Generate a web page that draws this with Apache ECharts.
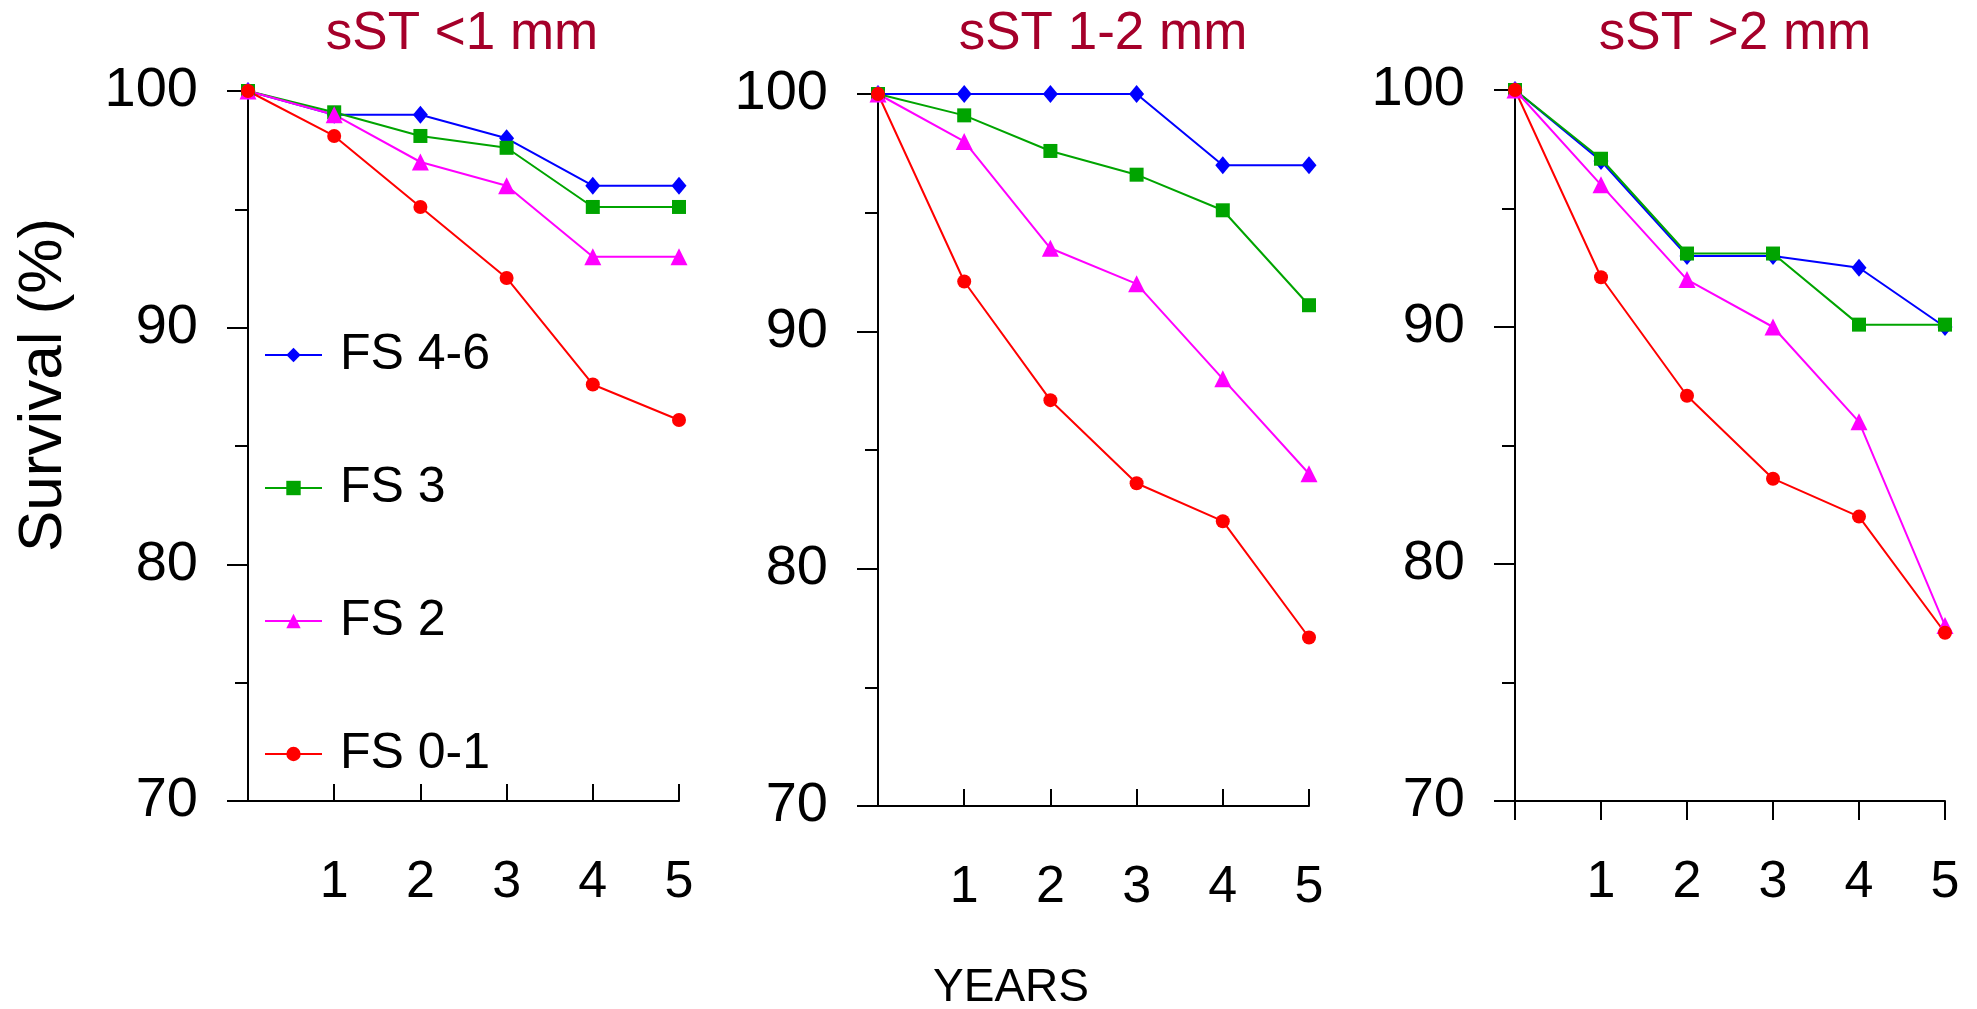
<!DOCTYPE html>
<html>
<head>
<meta charset="utf-8">
<script src="https://cdn.jsdelivr.net/npm/echarts@6/dist/echarts.min.js"></script>
<style>
html,body{margin:0;padding:0;background:#fff;}
#chart{width:1977px;height:1009px;}
</style>
</head>
<body>
<div id="chart"></div>
<script>
var years = [0, 1, 2, 3, 4, 5];
var panelTitles = ['sST <1 mm', 'sST 1-2 mm', 'sST >2 mm'];
var groupNames = ['FS 4-6', 'FS 3', 'FS 2', 'FS 0-1'];

// sST <1 mm
var p1_fs46 = [100, 99, 99, 98, 96, 96];
var p1_fs3 = [100, 99.1, 98.1, 97.6, 95.1, 95.1];
var p1_fs2 = [100, 99, 97, 96, 93, 93];
var p1_fs01 = [100, 98.1, 95.1, 92.1, 87.6, 86.1];
// sST 1-2 mm
var p2_fs46 = [100, 100, 100, 100, 97, 97];
var p2_fs3 = [100, 99.1, 97.6, 96.6, 95.1, 91.1];
var p2_fs2 = [100, 98, 93.5, 92, 88, 84];
var p2_fs01 = [100, 92.1, 87.1, 83.6, 82, 77.1];
// sST >2 mm
var p3_fs46 = [100, 97, 93, 93, 92.5, 90];
var p3_fs3 = [100, 97.1, 93.1, 93.1, 90.1, 90.1];
var p3_fs2 = [100, 96, 92, 90, 86, 77.4];
var p3_fs01 = [100, 92.1, 87.1, 83.6, 82, 77.1];

var yTicks = [70, 80, 90, 100];

var panels = [
    [p1_fs46, p1_fs3, p1_fs2, p1_fs01],
    [p2_fs46, p2_fs3, p2_fs2, p2_fs01],
    [p3_fs46, p3_fs3, p3_fs2, p3_fs01]
];

var colors = ['#0000ff', '#00a400', '#ff00ff', '#ff0000'];
var symbols = ['diamond', 'rect', 'triangle', 'circle'];
var symbolSizes = [[15, 18], 14, 17, 14];
var font = 'Liberation Sans, Arial, sans-serif';

var grids = [
    {left: 248, right: 1298, top: 91, height: 710},
    {left: 878, right: 668, top: 94, height: 712},
    {left: 1515, right: 32, top: 90, height: 711}
];
var titleCenters = [457, 1098, 1730];
var xTickInside = [true, true, false];

function pairs(vals) {
    return years.map(function (y, i) { return [y, vals[i]]; });
}

var myChart = echarts.init(document.getElementById('chart'));

var series = [];
panels.forEach(function (panel, pi) {
    panel.forEach(function (vals, si) {
        series.push({
            name: groupNames[si],
            type: 'line',
            xAxisIndex: pi,
            yAxisIndex: pi,
            data: pairs(vals),
            symbol: symbols[si],
            symbolSize: symbolSizes[si],
            showAllSymbol: true,
            itemStyle: {color: colors[si]},
            lineStyle: {color: colors[si], width: 2},
            animation: false
        });
    });
});

var option = {
    backgroundColor: '#fff',
    title: panelTitles.map(function (t, i) {
        return {
            text: t,
            left: titleCenters[i],
            top: 3,
            textAlign: 'center',
            textStyle: {color: '#a5002a', fontSize: 53, fontWeight: 'normal', fontFamily: font}
        };
    }),
    legend: {
        orient: 'vertical',
        left: 259,
        top: 320,
        itemGap: 73,
        itemWidth: 57,
        itemHeight: 18,
        data: groupNames,
        textStyle: {fontSize: 50, color: '#000', fontFamily: font, lineHeight: 60, padding: [0, 0, 0, 13]}
    },
    grid: grids.map(function (g) {
        return {left: g.left, right: g.right, top: g.top, height: g.height, outerBoundsMode: 'none'};
    }),
    xAxis: grids.map(function (g, i) {
        return {
            type: 'value',
            gridIndex: i,
            min: 0,
            max: 5,
            interval: 1,
            splitLine: {show: false},
            axisLine: {lineStyle: {color: '#000', width: 2}},
            axisTick: {inside: xTickInside[i], length: xTickInside[i] ? 17 : 19, lineStyle: {color: '#000', width: 2}},
            axisLabel: {
                margin: 56,
                fontSize: 52,
                color: '#000',
                fontFamily: font,
                formatter: function (v) { return v === 0 ? '' : String(v); }
            }
        };
    }),
    yAxis: grids.map(function (g, i) {
        return {
            type: 'value',
            gridIndex: i,
            min: yTicks[0],
            max: yTicks[yTicks.length - 1],
            interval: 10,
            splitLine: {show: false},
            axisLine: {show: true, lineStyle: {color: '#000', width: 2}},
            axisTick: {show: true, length: 21, lineStyle: {color: '#000', width: 2}},
            minorTick: {show: true, splitNumber: 2, length: 13, lineStyle: {color: '#000', width: 2}},
            axisLabel: {margin: 50, fontSize: 56, color: '#000', fontFamily: font}
        };
    }),
    graphic: [
        {
            type: 'text',
            x: 44,
            y: 385,
            rotation: Math.PI / 2,
            style: {text: 'Survival (%)', fontSize: 62, fontFamily: font, fill: '#000', textAlign: 'center', textVerticalAlign: 'middle'}
        },
        {
            type: 'text',
            x: 1011,
            y: 988,
            style: {text: 'YEARS', fontSize: 46, fontFamily: font, fill: '#000', textAlign: 'center', textVerticalAlign: 'middle'}
        }
    ],
    series: series
};

myChart.setOption(option);
</script>
</body>
</html>
